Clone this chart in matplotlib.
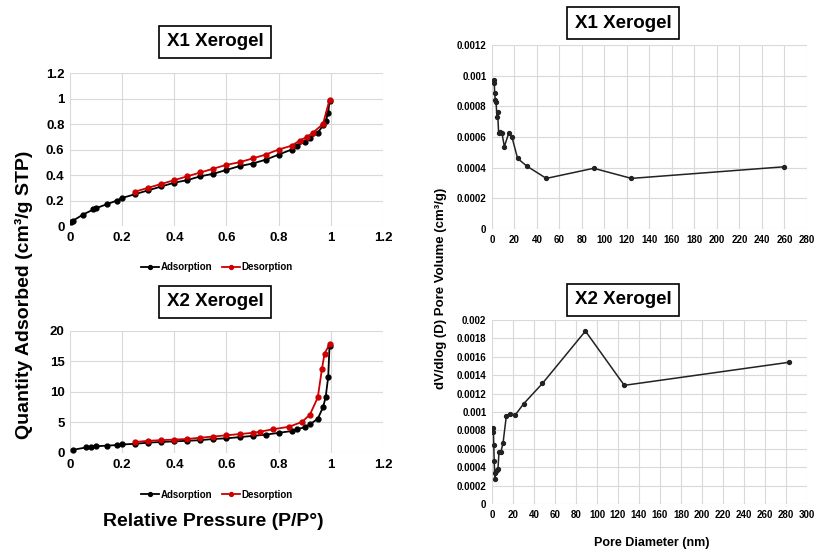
import matplotlib
matplotlib.use("Agg")
import matplotlib.pyplot as plt

plt.rcParams['font.family'] = ['Liberation Sans', 'DejaVu Sans']
plt.rcParams['font.weight'] = 'bold'

# X1 isotherm
x1_ads_p = [0.005, 0.01, 0.05, 0.09, 0.1, 0.14, 0.18, 0.2, 0.25, 0.3, 0.35, 0.4, 0.45, 0.5, 0.55, 0.6,
            0.65, 0.7, 0.75, 0.8, 0.85, 0.87, 0.9, 0.92, 0.95, 0.97, 0.98, 0.99, 0.995]
x1_ads_q = [0.03, 0.04, 0.09, 0.13, 0.14, 0.17, 0.2, 0.22, 0.25, 0.28, 0.31, 0.34, 0.36, 0.39, 0.41, 0.44,
            0.47, 0.49, 0.52, 0.56, 0.6, 0.63, 0.66, 0.69, 0.73, 0.79, 0.82, 0.89, 0.98]
x1_des_p = [0.25, 0.3, 0.35, 0.4, 0.45, 0.5, 0.55, 0.6, 0.65, 0.7, 0.75, 0.8, 0.85, 0.88, 0.91, 0.93, 0.97, 0.995]
x1_des_q = [0.27, 0.30, 0.33, 0.36, 0.39, 0.42, 0.45, 0.48, 0.50, 0.53, 0.56, 0.60, 0.63, 0.67, 0.70, 0.73, 0.80, 0.99]

# X2 isotherm
x2_ads_p = [0.01, 0.06, 0.08, 0.1, 0.14, 0.18, 0.2, 0.25, 0.3, 0.35, 0.4, 0.45, 0.5, 0.55, 0.6, 0.65,
            0.7, 0.75, 0.8, 0.85, 0.87, 0.9, 0.92, 0.95, 0.97, 0.98, 0.99, 0.995]
x2_ads_q = [0.5, 0.9, 1.0, 1.1, 1.2, 1.3, 1.4, 1.5, 1.7, 1.8, 1.9, 2.0, 2.1, 2.3, 2.4, 2.6,
            2.8, 3.0, 3.3, 3.6, 3.9, 4.2, 4.7, 5.6, 7.5, 9.1, 12.5, 17.6]
x2_des_p = [0.25, 0.3, 0.35, 0.4, 0.45, 0.5, 0.55, 0.6, 0.65, 0.7, 0.73, 0.78, 0.84, 0.89, 0.92, 0.95,
            0.966, 0.976, 0.995]
x2_des_q = [1.8, 2.0, 2.1, 2.2, 2.3, 2.5, 2.7, 2.9, 3.1, 3.3, 3.5, 3.9, 4.3, 5.1, 6.3, 9.1,
            13.8, 16.3, 17.8]

# Pore size distributions
x1_d = [1.5, 2.0, 2.4, 3.0, 3.6, 4.4, 5.0, 5.9, 7.4, 8.9, 11, 14.8, 17.8, 22.8, 31, 48.3, 90.4, 123.9, 260]
x1_v = [0.000972, 0.000955, 0.000885, 0.00084, 0.00083, 0.00073, 0.00076, 0.000628, 0.000635, 0.000624,
        0.000537, 0.000624, 0.000598, 0.00046, 0.00041, 0.00033, 0.000396, 0.00033, 0.000406]
x2_d = [1.0, 1.4, 1.7, 2.1, 2.5, 2.9, 3.5, 4.8, 5.7, 6.7, 8.3, 10.5, 13.7, 16.9, 22.3, 30.2, 48, 89, 126, 282.5]
x2_v = [0.00083, 0.00078, 0.00064, 0.00047, 0.00034, 0.00027, 0.00036, 0.00037, 0.00038, 0.00057, 0.00056,
        0.00066, 0.00096, 0.00098, 0.00097, 0.00109, 0.00131, 0.00188, 0.00129, 0.00154]

fig = plt.figure(figsize=(8.14, 5.51), dpi=100)

def style(ax, fs):
    ax.grid(True, color='#d9d9d9', lw=0.8)
    ax.set_axisbelow(True)
    for s in ax.spines.values():
        s.set_visible(False)
    ax.tick_params(length=0, labelsize=fs, pad=4)
    for lab in ax.get_xticklabels() + ax.get_yticklabels():
        lab.set_fontweight('bold')

def boxtitle(x, y, text):
    fig.text(x, y, text, ha='center', va='center', fontsize=13.5, fontweight='bold',
             bbox=dict(boxstyle='square,pad=0.4', fc='white', ec='black', lw=1.2))

def fmt(v):
    s = ('%.4f' % v).rstrip('0').rstrip('.')
    return s

leg_kw = dict(ncol=2, frameon=False, prop={'size': 7, 'weight': 'bold'}, handlelength=1.8,
              markerscale=0.8, columnspacing=1.0, handletextpad=0.2)

# Top-left
ax1 = fig.add_axes([0.086, 0.5898, 0.3845, 0.2777])
ax1.plot(x1_ads_p, x1_ads_q, '-o', color='black', ms=3.5, lw=1.3, label='Adsorption')
ax1.plot(x1_des_p, x1_des_q, '-o', color='#cc0000', ms=3.5, lw=1.3, label='Desorption')
ax1.set_xlim(0, 1.2); ax1.set_ylim(0, 1.2)
ax1.set_xticks([0, 0.2, 0.4, 0.6, 0.8, 1, 1.2]); ax1.set_yticks([0, 0.2, 0.4, 0.6, 0.8, 1, 1.2])
ax1.set_xticklabels(['0', '0.2', '0.4', '0.6', '0.8', '1', '1.2'])
ax1.set_yticklabels(['0', '0.2', '0.4', '0.6', '0.8', '1', '1.2'])
style(ax1, 9.5)
ax1.legend(loc='upper center', bbox_to_anchor=(0.47, -0.18), **leg_kw)

# Bottom-left
ax2 = fig.add_axes([0.086, 0.1779, 0.3845, 0.2214])
ax2.plot(x2_ads_p, x2_ads_q, '-o', color='black', ms=3.5, lw=1.3, label='Adsorption')
ax2.plot(x2_des_p, x2_des_q, '-o', color='#cc0000', ms=3.5, lw=1.3, label='Desorption')
ax2.set_xlim(0, 1.2); ax2.set_ylim(0, 20)
ax2.set_xticks([0, 0.2, 0.4, 0.6, 0.8, 1, 1.2]); ax2.set_yticks([0, 5, 10, 15, 20])
ax2.set_xticklabels(['0', '0.2', '0.4', '0.6', '0.8', '1', '1.2'])
style(ax2, 9.5)
ax2.legend(loc='upper center', bbox_to_anchor=(0.47, -0.23), **leg_kw)

# Top-right
ax3 = fig.add_axes([0.6044, 0.5844, 0.387, 0.3339])
ax3.plot(x1_d, x1_v, '-o', color='#222222', ms=2.8, lw=1.1)
ax3.set_xlim(0, 280); ax3.set_ylim(0, 0.0012)
ax3.set_xticks(range(0, 281, 20))
yt3 = [0, 0.0002, 0.0004, 0.0006, 0.0008, 0.001, 0.0012]
ax3.set_yticks(yt3); ax3.set_yticklabels([fmt(v) for v in yt3])
style(ax3, 7)

# Bottom-right
ax4 = fig.add_axes([0.6044, 0.0853, 0.387, 0.3339])
ax4.plot(x2_d, x2_v, '-o', color='#222222', ms=2.8, lw=1.1)
ax4.set_xlim(0, 300); ax4.set_ylim(0, 0.002)
ax4.set_xticks(range(0, 301, 20))
yt4 = [0, 0.0002, 0.0004, 0.0006, 0.0008, 0.001, 0.0012, 0.0014, 0.0016, 0.0018, 0.002]
ax4.set_yticks(yt4); ax4.set_yticklabels([fmt(v) for v in yt4])
style(ax4, 7)

boxtitle(215/814, 1 - 42/551, 'X1 Xerogel')
boxtitle(215/814, 1 - 302/551, 'X2 Xerogel')
boxtitle(623/814, 1 - 23/551, 'X1 Xerogel')
boxtitle(623/814, 1 - 300/551, 'X2 Xerogel')

fig.text(24/814, 1 - 295/551, 'Quantity Adsorbed (cm³/g STP)', rotation=90, ha='center', va='center',
         fontsize=14, fontweight='bold')
fig.text(213/814, 1 - 522/551, 'Relative Pressure (P/P°)', ha='center', va='center',
         fontsize=14, fontweight='bold')
fig.text(441/814, 1 - 288/551, 'dV/dlog (D) Pore Volume (cm³/g)', rotation=90, ha='center', va='center',
         fontsize=9.5, fontweight='bold')
fig.text(652/814, 1 - 543/551, 'Pore Diameter (nm)', ha='center', va='center',
         fontsize=9, fontweight='bold')

fig.savefig('out.png', dpi=100)
